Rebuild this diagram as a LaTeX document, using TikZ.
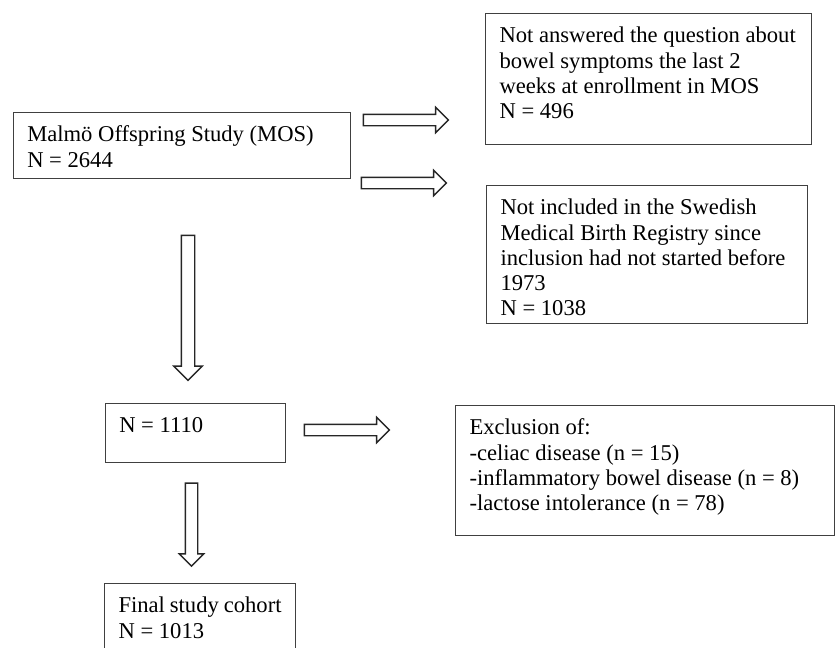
\documentclass[tikz,border=0pt]{standalone}
\usepackage{fontspec}
\setmainfont{Liberation Serif}
\usetikzlibrary{shapes.arrows}

\newcommand{\boxtext}[3]{\parbox[c][#2][t]{#1}{\strut #3}}

\tikzset{
  flowbox/.style={draw=black!75, line width=1.1pt, anchor=north west,
    inner xsep=14pt, inner ysep=11.5pt, font=\fontsize{22.6}{25.3}\selectfont},
  blockarrow/.style={single arrow, draw=black!85, line width=1.4pt, inner xsep=0pt,
    inner ysep=5pt, single arrow head extend=7pt, minimum height=85pt},
}

\begin{document}
\begin{tikzpicture}[x=1pt,y=-1pt]
\useasboundingbox (0,0) rectangle (836,648);

\node[flowbox] (mos) at (12.7,112) {\boxtext{309pt}{43pt}{Malmö Offspring Study (MOS)\\N = 2644}};
\node[flowbox] (answer) at (485,13) {\boxtext{298pt}{108pt}{Not answered the question about\\bowel symptoms the last 2\\weeks at enrollment in MOS\\N = 496}};
\node[flowbox] (registry) at (486,185) {\boxtext{293pt}{115pt}{Not included in the Swedish\\Medical Birth Registry since\\inclusion had not started before\\1973\\N = 1038}};
\node[flowbox] (n1110) at (104.7,403) {\boxtext{152pt}{35.7pt}{N = 1110}};
\node[flowbox] (exclusion) at (455,405) {\boxtext{351pt}{107pt}{Exclusion of:\\-celiac disease (n = 15)\\-inflammatory bowel disease (n = 8)\\-lactose intolerance (n = 78)}};
\node[flowbox] (final) at (104,583) {\boxtext{163pt}{50pt}{Final study cohort\\N = 1013}};

% arrows
\node[blockarrow] (a1) at (403,120) {};
\node[blockarrow] (a2) at (401,183) {};
\node[blockarrow] (a3) at (344,430) {};
\node[blockarrow, rotate=-90, minimum height=145pt, inner ysep=6pt, single arrow head extend=7.5pt] (d1) at (188,304.5) {};
\node[blockarrow, rotate=-90, minimum height=83pt, inner ysep=5.5pt, single arrow head extend=6pt] (d2) at (191.5,521.5) {};
\end{tikzpicture}
\end{document}
